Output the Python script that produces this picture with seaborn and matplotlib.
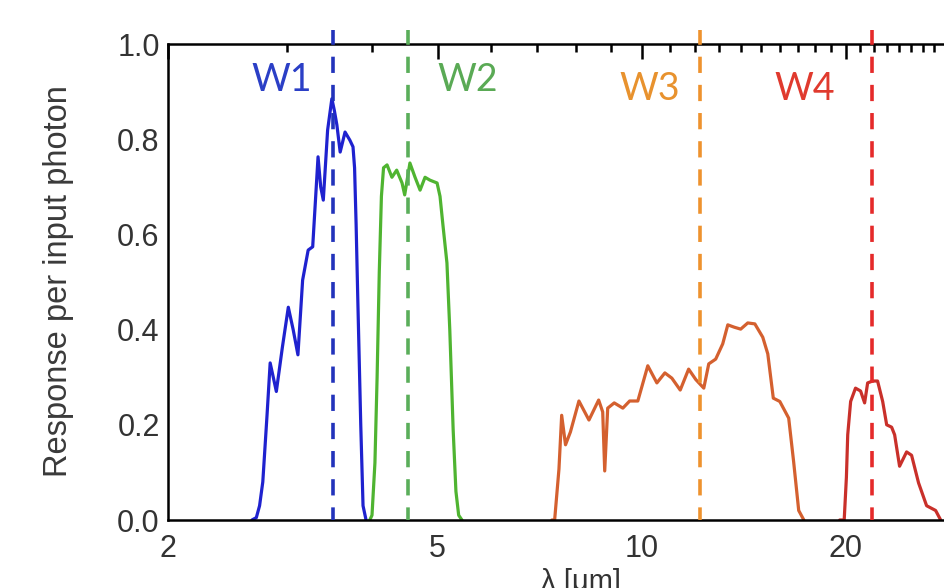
import numpy as np
import pandas as pd
import matplotlib
matplotlib.use("Agg")
import matplotlib.pyplot as plt
from matplotlib.ticker import FixedLocator, FixedFormatter, NullFormatter
import seaborn as sns

# ---------------- data ----------------
w1_wave = [2.66, 2.70, 2.73, 2.76, 2.80, 2.83, 2.86, 2.89, 2.95, 3.01, 3.06, 3.11, 3.16, 3.22,
           3.27, 3.33, 3.36, 3.39, 3.44, 3.49, 3.52, 3.55, 3.59, 3.65, 3.71, 3.75, 3.77,
           3.79, 3.81, 3.85, 3.88, 3.92]
w1_resp = [0.0, 0.005, 0.03, 0.08, 0.22, 0.33, 0.30, 0.27, 0.363, 0.447, 0.40, 0.347, 0.504,
           0.567, 0.574, 0.763, 0.70, 0.672, 0.819, 0.885, 0.86, 0.83, 0.773, 0.815, 0.798,
           0.784, 0.74, 0.62, 0.475, 0.2, 0.03, 0.0]

w2_wave = [3.97, 4.00, 4.04, 4.07, 4.10, 4.13, 4.16, 4.21, 4.28, 4.35, 4.43, 4.47, 4.55, 4.63,
           4.71, 4.79, 4.87, 4.99, 5.04, 5.09, 5.16, 5.21, 5.27, 5.32, 5.37, 5.43]
w2_resp = [0.0, 0.01, 0.12, 0.30, 0.52, 0.68, 0.74, 0.746, 0.72, 0.735, 0.708, 0.683, 0.75,
           0.72, 0.693, 0.72, 0.714, 0.708, 0.68, 0.62, 0.54, 0.40, 0.19, 0.06, 0.01, 0.0]

w3_wave = [7.37, 7.44, 7.55, 7.62, 7.72, 7.85, 8.08, 8.36, 8.64, 8.76, 8.82, 8.91, 9.11, 9.38,
           9.60, 9.87, 10.21, 10.53, 10.82, 11.08, 11.40, 11.73, 12.02, 12.35, 12.56, 12.86,
           13.17, 13.40, 13.70, 14.00, 14.34, 14.69, 15.09, 15.35, 15.64, 15.99, 16.48, 16.76,
           17.05, 17.35]
w3_resp = [0.0, 0.0, 0.107, 0.22, 0.158, 0.185, 0.25, 0.21, 0.252, 0.227, 0.103, 0.235, 0.246,
           0.235, 0.25, 0.25, 0.324, 0.288, 0.309, 0.298, 0.273, 0.317, 0.295, 0.277, 0.328,
           0.338, 0.37, 0.41, 0.405, 0.401, 0.414, 0.412, 0.384, 0.349, 0.256, 0.249, 0.214,
           0.122, 0.02, 0.0]

w4_wave = [19.6, 19.9, 20.05, 20.14, 20.34, 20.68, 21.04, 21.33, 21.55, 21.92, 22.29, 22.68,
           22.99, 23.38, 23.62, 24.02, 24.60, 25.02, 25.62, 26.33, 27.15, 27.62]
w4_resp = [0.0, 0.0, 0.09, 0.179, 0.249, 0.277, 0.271, 0.246, 0.288, 0.292, 0.292, 0.249, 0.2,
           0.195, 0.179, 0.113, 0.143, 0.136, 0.078, 0.03, 0.02, 0.0]

band_names = ["W1", "W2", "W3", "W4"]
band_centers = [3.50, 4.52, 12.18, 21.84]

xtick_major = [2, 5, 10, 20]
xtick_labels = ["2", "5", "10", "20"]
xtick_minor = [3, 4, 6, 7, 8, 9, 11, 12, 13, 14, 15, 16, 17, 18, 19,
               21, 22, 23, 24, 25, 26, 27, 28, 29, 30]
ytick_major = [0.0, 0.2, 0.4, 0.6, 0.8, 1.0]
ytick_labels = ["0.0", "0.2", "0.4", "0.6", "0.8", "1.0"]
ytick_minor = [0.05, 0.1, 0.15, 0.25, 0.3, 0.35, 0.45, 0.5, 0.55, 0.65, 0.7, 0.75, 0.85, 0.9, 0.95]

xlabel = "λ [μm]"
ylabel = "Response per input photon"

# ---------------- styling ----------------
sns.set_theme(style="white")
plt.rcParams["font.family"] = ["Liberation Sans", "DejaVu Sans"]

curve_colors = ["#1f22cf", "#4fb431", "#d4602f", "#c9302a"]
dash_colors = ["#2233bb", "#5aae5a", "#ee922e", "#e52a2a"]
label_colors = ["#2b3fc6", "#5aaa55", "#e8922e", "#e03a2e"]
label_pos = [(2.94, 0.924), (5.54, 0.924), (10.28, 0.905), (17.4, 0.905)]

fig = plt.figure(figsize=(9.44, 5.88), dpi=100)
ax = fig.add_axes([168 / 944, 68 / 588, 797 / 944, 476 / 588])

frames = []
for name, w, r in [("W1", w1_wave, w1_resp), ("W2", w2_wave, w2_resp),
                   ("W3", w3_wave, w3_resp), ("W4", w4_wave, w4_resp)]:
    frames.append(pd.DataFrame({"wave": w, "resp": r, "band": name}))
df = pd.concat(frames, ignore_index=True)

sns.lineplot(data=df, x="wave", y="resp", hue="band", hue_order=band_names,
             palette=curve_colors, estimator=None, sort=True, linewidth=2.3,
             legend=False, ax=ax)
for ln in ax.lines:
    ln.set_solid_joinstyle("round")

for c, col in zip(band_centers, dash_colors):
    ax.axvline(c, ymin=0, ymax=1.03, color=col, linewidth=2.6,
               linestyle=(1, (4.5, 3.3)), clip_on=False, zorder=3)

for name, (lx, ly), col in zip(band_names, label_pos, label_colors):
    ax.text(lx, ly, name, color=col, fontsize=27, family=["Lato", "DejaVu Sans"],
            ha="center", va="center")

ax.set_xscale("log")
ax.set_xlim(2, 30)
ax.set_ylim(0, 1.0)
ax.xaxis.set_major_locator(FixedLocator(xtick_major))
ax.xaxis.set_major_formatter(FixedFormatter(xtick_labels))
ax.xaxis.set_minor_locator(FixedLocator(xtick_minor))
ax.xaxis.set_minor_formatter(NullFormatter())
ax.yaxis.set_major_locator(FixedLocator(ytick_major))
ax.yaxis.set_major_formatter(FixedFormatter(ytick_labels))
ax.yaxis.set_minor_locator(FixedLocator(ytick_minor))

ax.tick_params(which="both", direction="in", top=True, right=True,
               color="black", width=1.8, labelsize=22, labelcolor="#333333")
ax.tick_params(which="major", length=11)
ax.tick_params(which="minor", length=6)
ax.tick_params(axis="x", which="major", pad=10)
ax.tick_params(axis="y", which="major", pad=6)

for s in ax.spines.values():
    s.set_color("black")
    s.set_linewidth(1.8)

ax.set_xlabel(xlabel, fontsize=21, color="#333333")
ax.xaxis.set_label_coords(0.518, -0.100)
ax.set_ylabel(ylabel, fontsize=23.5, color="#3a3a3a")
ax.yaxis.set_label_coords(-0.118, 0.502)

fig.savefig("out.png", dpi=100)
